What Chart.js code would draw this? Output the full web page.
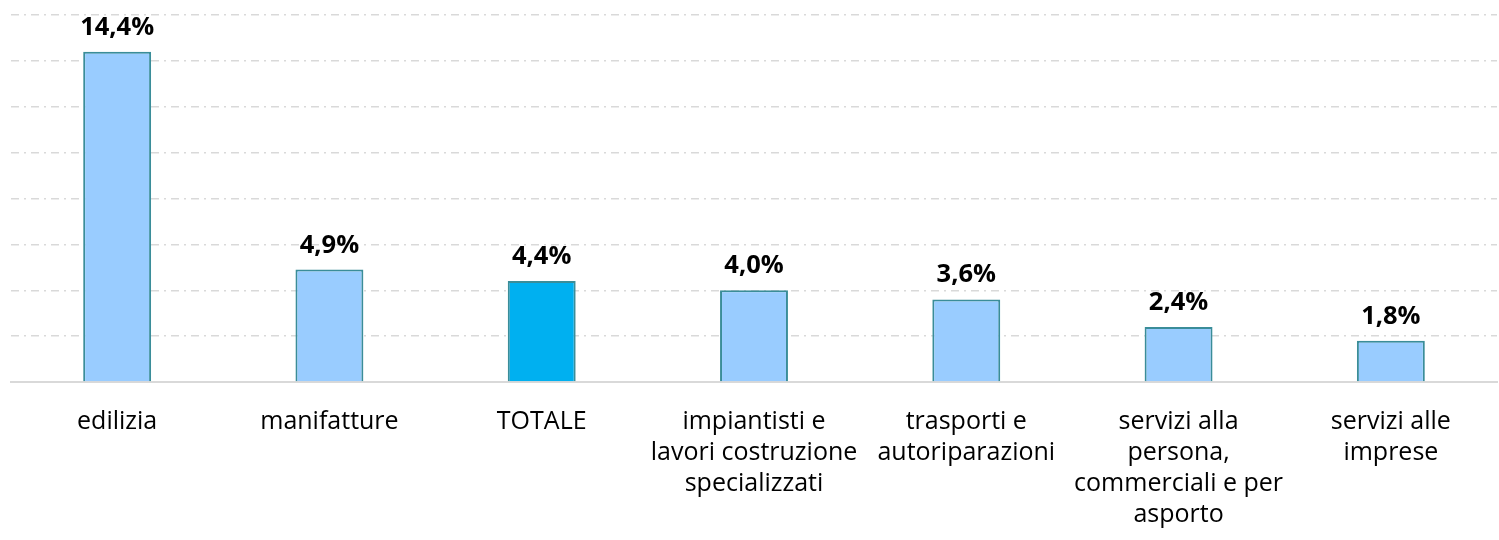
<!DOCTYPE html>
<html>
<head>
<meta charset="utf-8">
<script src="https://cdn.jsdelivr.net/npm/chart.js"></script>
<style>
  html, body { margin:0; padding:0; background:#fff; }
  #wrap { width:1499px; height:540px; }
</style>
</head>
<body>
<div id="wrap"><canvas id="graph" width="1499" height="540"></canvas></div>
<script>
// categorie e valori (%)
const categories = [
    'edilizia',
    'manifatture',
    'TOTALE',
    ['impiantisti e', 'lavori costruzione', 'specializzati'],
    ['trasporti e', 'autoriparazioni'],
    ['servizi alla', 'persona,', 'commerciali e per', 'asporto'],
    ['servizi alle', 'imprese']
];
const values = [14.4, 4.9, 4.4, 4.0, 3.6, 2.4, 1.8];
const barColors = ['#99ccff', '#99ccff', '#00b0f0', '#99ccff', '#99ccff', '#99ccff', '#99ccff'];

// etichette sopra le barre
const barLabels = {
    id: 'barLabels',
    afterDatasetsDraw(chart) {
        const ctx = chart.ctx;
        const meta = chart.getDatasetMeta(0);
        ctx.save();
        ctx.font = 'bold 25.5px "Open Sans"';
        ctx.fillStyle = '#000';
        ctx.textAlign = 'center';
        ctx.textBaseline = 'alphabetic';
        meta.data.forEach((bar, i) => {
            const txt = values[i].toFixed(1).replace('.', ',') + '%';
            ctx.fillText(txt, bar.x, bar.y - 17);
        });
        ctx.restore();
    }
};

let graph = document.getElementById('graph').getContext('2d');
let myChart = new Chart(graph, {
    type: 'bar',
    data: {
        labels: categories,
        datasets: [{
            data: values,
            backgroundColor: barColors,
            borderColor: '#3a8d99',
            borderWidth: 2,
            categoryPercentage: 1,
            barPercentage: 0.32
        }]
    },
    options: {
        responsive: false,
        animation: false,
        layout: { padding: { left: 11, right: 2, top: 15, bottom: 0 } },
        scales: {
            x: {
                grid: { display: false, drawTicks: false },
                border: { display: true, color: '#d9d9d9', width: 2 },
                ticks: {
                    color: '#000',
                    padding: 24,
                    maxRotation: 0,
                    autoSkip: false,
                    font: { family: '"Open Sans"', size: 25, lineHeight: '31px' }
                },
                afterFit: (scale) => { scale.height = 158; }
            },
            y: {
                min: 0,
                max: 16,
                ticks: { display: false, stepSize: 2 },
                grid: { color: '#d9d9d9', lineWidth: 1.5, drawTicks: false },
                border: { display: false, dash: [8, 5, 2, 5] }
            }
        },
        plugins: {
            legend: { display: false },
            tooltip: { enabled: false }
        }
    },
    plugins: [barLabels]
});
</script>
</body>
</html>
